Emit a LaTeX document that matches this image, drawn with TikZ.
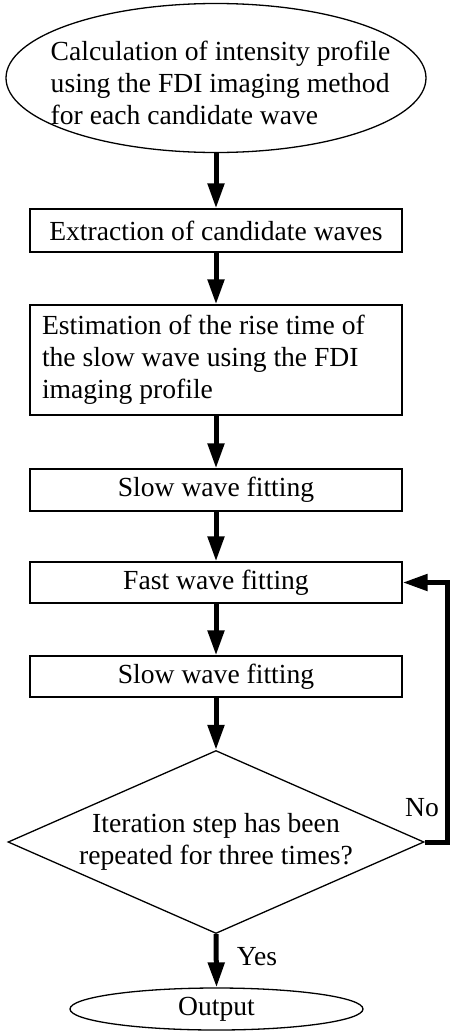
\documentclass[tikz,border=0pt]{standalone}
\usepackage{fontspec}
\setmainfont{Liberation Serif}
\usetikzlibrary{shapes.geometric,arrows.meta}
\begin{document}
\begin{tikzpicture}[x=1pt,y=-1pt,
  txt/.style={font=\fontsize{27.6}{32}\selectfont},
  procbox/.style={draw,line width=1.3pt,rectangle,minimum width=372pt,inner sep=0pt,txt},
  flow/.style={line width=5pt,line join=miter,-{Triangle[length=25pt,width=16pt]}},
  ]
\useasboundingbox (0,0) rectangle (452,1031);
\node[ellipse,draw,line width=1.3pt,minimum width=420pt,minimum height=149pt,inner sep=0pt] (start) at (216,78) {};
\node[align=left,txt,inner sep=0pt] (starttext) at (220.5,83) {Calculation of intensity profile\\using the FDI imaging method\\for each candidate wave};
\node[procbox,minimum height=43pt] (b1) at (216,230.5) {Extraction of candidate waves};
\node[procbox,minimum height=110pt,text width=348pt] (b2) at (216,360) {\spaceskip=0pt\xspaceskip=0pt\begin{tabular}{@{}l@{}}Estimation of the rise time of\\the slow wave using the FDI\\imaging profile\end{tabular}};
\node[procbox,minimum height=42pt] (b3) at (216,490) {Slow wave fitting};
\node[procbox,minimum height=41pt] (b4) at (216,582.5) {Fast wave fitting};
\node[procbox,minimum height=41pt] (b5) at (216,676.5) {Slow wave fitting};
\node[diamond,draw,line width=1.3pt,aspect=2.27,minimum width=416pt,minimum height=183pt,inner sep=0pt,txt,align=center] (dia) at (216,842) {Iteration step has been\\repeated for three times?};
\node[ellipse,draw,line width=1.3pt,minimum width=293pt,minimum height=42pt,inner sep=0pt,txt] (out) at (216.5,1009) {Output};
\coordinate (loop) at (447,842);
\draw[flow] (start.south) -- (b1.north);
\draw[flow] (b1.south) -- (b2.north);
\draw[flow] (b2.south) -- (b3.north);
\draw[flow] (b3.south) -- (b4.north);
\draw[flow] (b4.south) -- (b5.north);
\draw[flow] (b5.south) -- (dia.north);
\draw[flow] (dia.south) -- (out.north);
\draw[flow] (dia.east) -- (loop) |- (b4.east);
\node[txt,inner sep=0pt] (nolabel) at (422,808) {No};
\node[txt,inner sep=0pt] (yeslabel) at (257,957) {Yes};
\end{tikzpicture}
\end{document}
